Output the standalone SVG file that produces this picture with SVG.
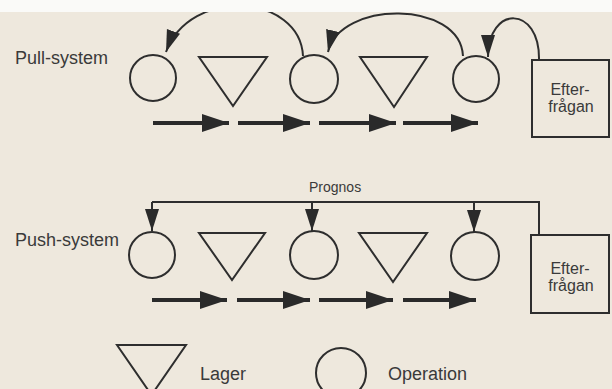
<svg xmlns="http://www.w3.org/2000/svg" width="612" height="389" viewBox="0 0 612 389">
<defs>
<marker id="flowHead" markerUnits="userSpaceOnUse" markerWidth="30" markerHeight="22" refX="27" refY="10" orient="auto">
<path d="M0,1 L27,10 L0,19 Z" fill="#2a2a2a"/>
</marker>
<marker id="arcHead" markerUnits="userSpaceOnUse" markerWidth="24" markerHeight="16" refX="22" refY="7.5" orient="auto">
<path d="M0,0.5 L22,7.5 L0,14.5 Z" fill="#2a2a2a"/>
</marker>
</defs>
<style>
.shape{fill:none;stroke:#2e2e2e;stroke-width:2}
.flow{fill:none;stroke:#2a2a2a;stroke-width:4;marker-end:url(#flowHead)}
.arc{fill:none;stroke:#2e2e2e;stroke-width:2;marker-end:url(#arcHead)}
.line{fill:none;stroke:#2e2e2e;stroke-width:2}
.lbl{font-family:"Liberation Sans",Arial,sans-serif;font-size:18px;fill:#3a3a3a}
.box{font-family:"Liberation Sans",Arial,sans-serif;font-size:16px;fill:#3a3a3a}
.small{font-family:"Liberation Sans",Arial,sans-serif;font-size:14px;fill:#3a3a3a}
</style>
<rect x="0" y="0" width="612" height="389" fill="#eee8dd"/>

<g id="labels">
<text class="lbl" x="15" y="64">Pull-system</text>
<text class="lbl" x="15" y="246">Push-system</text>
<text class="small" x="309" y="192">Prognos</text>
</g>

<!-- Pull row nodes -->
<g id="pull-op1"><circle class="shape" cx="153" cy="78" r="23"/></g>
<g id="pull-lager1"><polygon class="shape" points="199,57 267,57 233,106"/></g>
<g id="pull-op2"><circle class="shape" cx="314" cy="79" r="24"/></g>
<g id="pull-lager2"><polygon class="shape" points="360,57 427,57 394,107"/></g>
<g id="pull-op3"><circle class="shape" cx="476" cy="79" r="23"/></g>
<g id="pull-demand">
<rect class="shape" x="532" y="60" width="77" height="77"/>
<text class="box" x="570" y="95" text-anchor="middle">Efter-</text>
<text class="box" x="571" y="112" text-anchor="middle">frågan</text>
</g>

<!-- Push row nodes -->
<g id="push-op1"><circle class="shape" cx="152" cy="255" r="23"/></g>
<g id="push-lager1"><polygon class="shape" points="199,233 265,233 232,280"/></g>
<g id="push-op2"><circle class="shape" cx="314" cy="255" r="24"/></g>
<g id="push-lager2"><polygon class="shape" points="359,233 427,233 393,282"/></g>
<g id="push-op3"><circle class="shape" cx="475" cy="256" r="24"/></g>
<g id="push-demand">
<rect class="shape" x="531" y="235" width="78" height="78"/>
<text class="box" x="570" y="274" text-anchor="middle">Efter-</text>
<text class="box" x="571" y="291" text-anchor="middle">frågan</text>
</g>

<!-- Legend -->
<g id="legend-lager">
<polygon class="shape" points="117,345 186,345 151.5,395"/>
<text class="lbl" x="200" y="380">Lager</text>
</g>
<g id="legend-operation">
<circle class="shape" cx="341" cy="373" r="25"/>
<text class="lbl" x="388" y="380">Operation</text>
</g>

<g id="connectors">
<line class="flow" x1="153" y1="123" x2="229" y2="123"/>
<line class="flow" x1="238" y1="123" x2="310" y2="123"/>
<line class="flow" x1="319" y1="123" x2="396" y2="123"/>
<line class="flow" x1="403" y1="123" x2="478" y2="123"/>
<path class="arc" d="M303,56 C300,-6 190,-14 166,52"/>
<path class="arc" d="M463,56 C460,0 340,0 328,52"/>
<path class="arc" d="M539,60 C540,5 488,5 488,57"/>
<line class="flow" x1="152" y1="300" x2="227" y2="300"/>
<line class="flow" x1="237" y1="300" x2="310" y2="300"/>
<line class="flow" x1="319" y1="300" x2="393" y2="300"/>
<line class="flow" x1="403" y1="300" x2="476" y2="300"/>
<path class="line" d="M152,202 H539 V235"/>
<path class="arc" d="M152,202 V231"/>
<path class="arc" d="M312,202 V231"/>
<path class="arc" d="M474,202 V232"/>
</g>

<rect x="0" y="0" width="612" height="12" fill="#fafaf8"/>
</svg>
